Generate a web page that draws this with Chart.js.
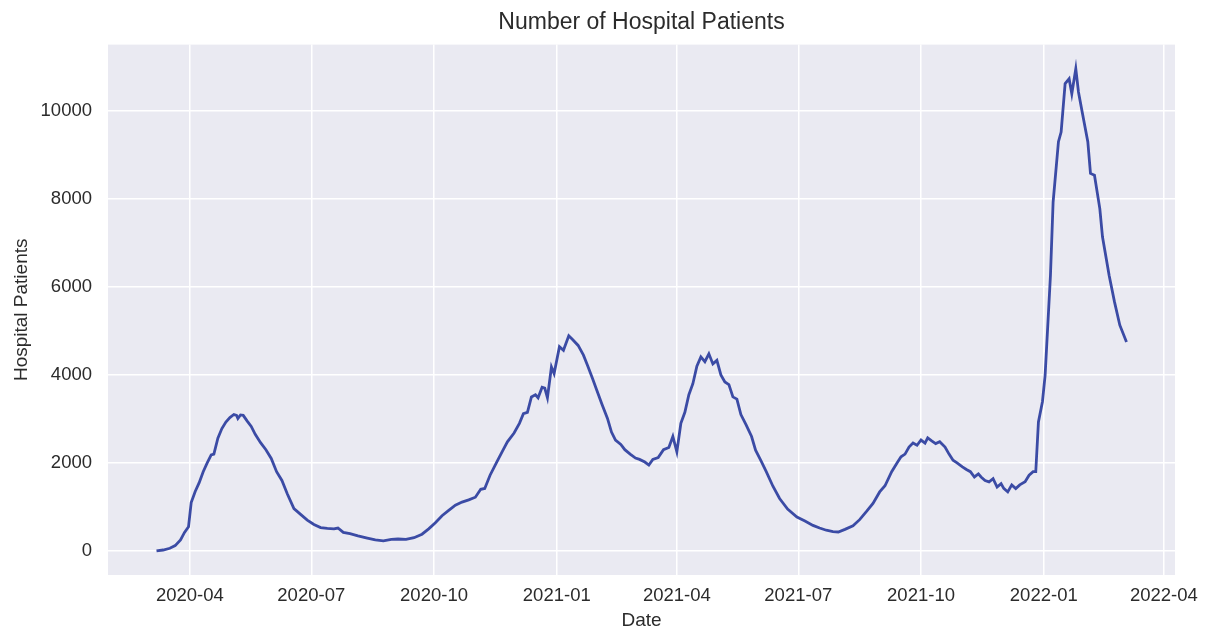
<!DOCTYPE html>
<html>
<head>
<meta charset="utf-8">
<script src="https://cdn.jsdelivr.net/npm/chart.js@4/dist/chart.umd.min.js"></script>
<style>
html, body { margin: 0; padding: 0; background: #fff; }
#wrap { width: 1210px; height: 632px; }
</style>
</head>
<body>
<div id="wrap"><canvas id="chart"></canvas></div>
<script>
// daily hospital patients
const dates = [
  '2020-03-07','2020-03-12','2020-03-17','2020-03-21','2020-03-25','2020-03-28','2020-03-31','2020-04-02',
  '2020-04-05','2020-04-08','2020-04-11','2020-04-14','2020-04-17','2020-04-19','2020-04-22','2020-04-25',
  '2020-04-28','2020-05-01','2020-05-04','2020-05-06','2020-05-07','2020-05-09','2020-05-11','2020-05-14',
  '2020-05-17','2020-05-20','2020-05-24','2020-05-28','2020-06-01','2020-06-05','2020-06-09','2020-06-13',
  '2020-06-18','2020-06-23','2020-06-28','2020-07-03','2020-07-08','2020-07-13','2020-07-18','2020-07-21',
  '2020-07-25','2020-07-30','2020-08-05','2020-08-12','2020-08-18','2020-08-24','2020-08-30','2020-09-04',
  '2020-09-10','2020-09-16','2020-09-22','2020-09-27','2020-10-02','2020-10-07','2020-10-12','2020-10-17',
  '2020-10-22','2020-10-27','2020-11-01','2020-11-05','2020-11-08','2020-11-12','2020-11-17','2020-11-21',
  '2020-11-25','2020-11-30','2020-12-04','2020-12-07','2020-12-10','2020-12-13','2020-12-16','2020-12-18',
  '2020-12-21','2020-12-23','2020-12-25','2020-12-28','2020-12-30','2021-01-03','2021-01-06','2021-01-10',
  '2021-01-13','2021-01-17','2021-01-21','2021-01-24','2021-01-28','2021-01-31','2021-02-04','2021-02-08',
  '2021-02-11','2021-02-14','2021-02-18','2021-02-21','2021-02-25','2021-03-01','2021-03-04','2021-03-08',
  '2021-03-11','2021-03-14','2021-03-18','2021-03-22','2021-03-26','2021-03-29','2021-04-01','2021-04-04',
  '2021-04-07','2021-04-10','2021-04-13','2021-04-16','2021-04-19','2021-04-22','2021-04-25','2021-04-28',
  '2021-05-01','2021-05-04','2021-05-07','2021-05-10','2021-05-13','2021-05-16','2021-05-19','2021-05-23',
  '2021-05-27','2021-05-30','2021-06-03','2021-06-07','2021-06-12','2021-06-17','2021-06-23','2021-06-30',
  '2021-07-06','2021-07-12','2021-07-17','2021-07-22','2021-07-27','2021-07-31','2021-08-05','2021-08-11',
  '2021-08-16','2021-08-21','2021-08-26','2021-08-31','2021-09-04','2021-09-09','2021-09-13','2021-09-16',
  '2021-09-19','2021-09-22','2021-09-25','2021-09-28','2021-10-01','2021-10-04','2021-10-06','2021-10-09',
  '2021-10-12','2021-10-15','2021-10-19','2021-10-22','2021-10-25','2021-10-28','2021-11-01','2021-11-04',
  '2021-11-07','2021-11-10','2021-11-13','2021-11-15','2021-11-18','2021-11-21','2021-11-24','2021-11-27',
  '2021-11-30','2021-12-02','2021-12-05','2021-12-08','2021-12-11','2021-12-14','2021-12-18','2021-12-21',
  '2021-12-24','2021-12-26','2021-12-28','2021-12-31','2022-01-02','2022-01-06','2022-01-08','2022-01-12',
  '2022-01-14','2022-01-17','2022-01-20','2022-01-22','2022-01-25','2022-01-27','2022-01-30','2022-02-03',
  '2022-02-05','2022-02-08','2022-02-12','2022-02-14','2022-02-19','2022-02-23','2022-02-27','2022-03-04'
];
const patients = [
  0, 20, 60, 120, 250, 420, 550, 1100,
  1350, 1550, 1800, 2000, 2180, 2200, 2560, 2780,
  2930, 3030, 3100, 3080, 3010, 3090, 3080, 2950,
  2830, 2650, 2460, 2300, 2100, 1800, 1600, 1300,
  960, 830, 700, 600, 530, 510, 500, 520,
  420, 390, 340, 290, 250, 230, 260, 270,
  260, 300, 380, 500, 640, 800, 920, 1040,
  1110, 1160, 1220, 1400, 1420, 1720, 2020, 2250,
  2480, 2680, 2900, 3120, 3150, 3500, 3550, 3480,
  3720, 3700, 3480, 4180, 4030, 4640, 4560, 4890,
  4800, 4670, 4450, 4220, 3900, 3650, 3320, 3010,
  2700, 2520, 2420, 2300, 2200, 2110, 2080, 2020,
  1950, 2080, 2120, 2300, 2350, 2600, 2250, 2900,
  3150, 3550, 3800, 4200, 4410, 4300, 4480, 4250,
  4330, 4000, 3840, 3780, 3500, 3450, 3100, 2860,
  2600, 2290, 2050, 1800, 1470, 1190, 950, 770,
  680, 580, 520, 470, 440, 430, 490, 570,
  710, 890, 1080, 1340, 1480, 1800, 2000, 2140,
  2200, 2360, 2450, 2400, 2520, 2450, 2570, 2500,
  2440, 2480, 2360, 2200, 2060, 2000, 1910, 1850,
  1800, 1680, 1750, 1680, 1600, 1570, 1640, 1450,
  1530, 1420, 1340, 1500, 1415, 1500, 1570, 1720,
  1800, 1800, 2930, 3390, 3990, 6260, 7930, 9300,
  9520, 10620, 10730, 10390, 10960, 10430, 9940, 9300,
  8580, 8540, 7780, 7140, 6260, 5660, 5130, 4750
];
const xTickLabels = ['2020-04','2020-07','2020-10','2021-01','2021-04','2021-07','2021-10','2022-01','2022-04'];
const yTickValues = [0, 2000, 4000, 6000, 8000, 10000];

function dayNum(s) {
  const p = s.split('-').map(Number);
  return Date.UTC(p[0], p[1] - 1, p[2] || 1) / 86400000;
}

const points = dates.map((d, i) => ({ x: dayNum(d), y: patients[i] }));
const xs = points.map(p => p.x);
const x0 = Math.min(...xs), x1 = Math.max(...xs);
const yTop = Math.max(...patients);
const xPad = (x1 - x0) * 0.05, yPad = yTop * 0.05;

const textColor = '#2b2b2b';
const fontFam = '"Liberation Sans", Arial, sans-serif';

const plotBg = {
  id: 'plotBg',
  beforeDraw(chart) {
    const { ctx, chartArea: a } = chart;
    ctx.save();
    ctx.fillStyle = '#EAEAF2';
    ctx.fillRect(a.left, a.top, a.right - a.left, a.bottom - a.top);
    ctx.restore();
  }
};

new Chart(document.getElementById('chart'), {
  type: 'line',
  data: {
    datasets: [{
      label: 'Hospital Patients',
      data: points,
      borderColor: '#3b4ba5',
      borderWidth: 2.8,
      pointRadius: 0,
      tension: 0,
      fill: false
    }]
  },
  options: {
    responsive: true,
    maintainAspectRatio: false,
    animation: false,
    layout: { padding: { left: 0, right: 35, top: 0, bottom: 0 } },
    scales: {
      x: {
        type: 'linear',
        min: x0 - xPad,
        max: x1 + xPad,
        afterBuildTicks: s => { s.ticks = xTickLabels.map(t => ({ value: dayNum(t) })); },
        afterFit: s => { s.height = 57; },
        ticks: {
          autoSkip: false,
          maxRotation: 0,
          padding: 10,
          color: textColor,
          font: { family: fontFam, size: 18.5 },
          callback: (v, i) => xTickLabels[i]
        },
        grid: { color: '#ffffff', lineWidth: 1.5, drawTicks: false },
        border: { display: false },
        title: { display: true, text: 'Date', color: textColor, font: { family: fontFam, size: 19 }, padding: { top: 0, bottom: 0 } }
      },
      y: {
        min: -yPad,
        max: yTop + yPad,
        afterBuildTicks: s => { s.ticks = yTickValues.map(v => ({ value: v })); },
        afterFit: s => { s.width = 108; },
        ticks: {
          padding: 16,
          color: textColor,
          font: { family: fontFam, size: 18.5 },
          callback: v => String(v)
        },
        grid: { color: '#ffffff', lineWidth: 1.5, drawTicks: false },
        border: { display: false },
        title: { display: true, text: 'Hospital Patients', color: textColor, font: { family: fontFam, size: 19 }, padding: { top: 10, bottom: 0 } }
      }
    },
    plugins: {
      legend: { display: false },
      tooltip: { enabled: false },
      title: {
        display: true,
        fullSize: false,
        text: 'Number of Hospital Patients',
        color: textColor,
        font: { family: fontFam, size: 23, weight: 'normal' },
        padding: { top: 9, bottom: 8 }
      }
    }
  },
  plugins: [plotBg]
});
</script>
</body>
</html>
